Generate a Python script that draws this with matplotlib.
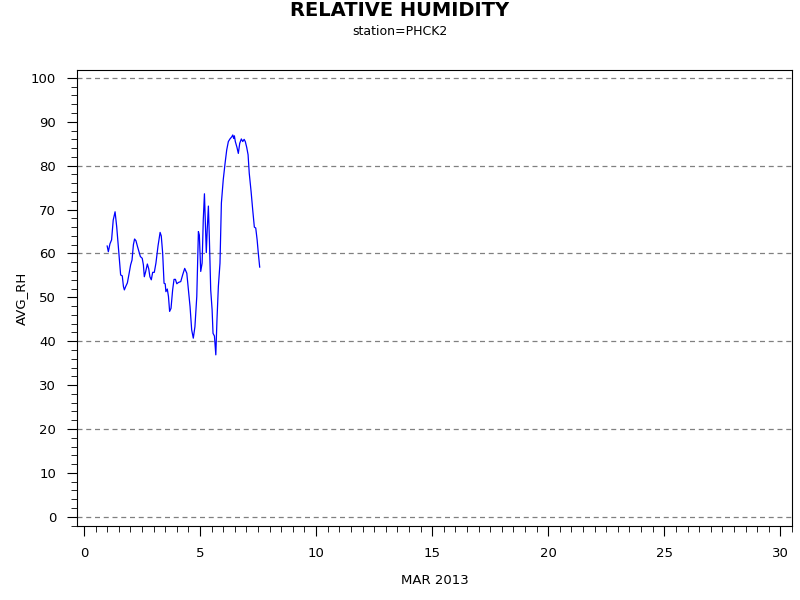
import matplotlib
matplotlib.use("Agg")
import matplotlib.pyplot as plt
from matplotlib.ticker import MultipleLocator

# hourly-ish readings, day of March 2013 vs average RH
day = [1.00, 1.05, 1.12, 1.19, 1.26, 1.34, 1.41, 1.48, 1.58, 1.65, 1.70, 1.74,
       1.80, 1.87, 1.95, 2.01, 2.07, 2.13, 2.18, 2.24, 2.30, 2.37, 2.43, 2.51,
       2.56, 2.60, 2.66, 2.73, 2.79, 2.84, 2.90, 2.96, 3.03, 3.10, 3.19, 3.28,
       3.33, 3.39, 3.45, 3.50, 3.53, 3.59, 3.64, 3.69, 3.75, 3.82, 3.88, 3.94,
       4.00, 4.07, 4.17, 4.25, 4.34, 4.43, 4.50, 4.57, 4.64, 4.71, 4.78, 4.86,
       4.93, 4.97, 5.03, 5.09, 5.14, 5.19, 5.23, 5.27, 5.31, 5.36, 5.40, 5.46,
       5.52, 5.56, 5.62, 5.68, 5.73, 5.79, 5.86, 5.92, 6.00, 6.08, 6.15, 6.22,
       6.29, 6.37, 6.41, 6.45, 6.48, 6.52, 6.59, 6.65, 6.71, 6.78, 6.84, 6.90,
       6.95, 7.01, 7.07, 7.12, 7.20, 7.27, 7.34, 7.40, 7.46, 7.51, 7.57]
avg_rh = [61.7, 60.4, 62.2, 63.1, 67.6, 69.5, 66.1, 61.6, 55.1, 54.9, 52.5, 51.7,
          52.5, 53.3, 55.6, 57.4, 58.5, 62.0, 63.3, 62.9, 61.7, 60.4, 59.3, 58.9,
          57.4, 54.7, 55.9, 57.6, 56.5, 54.7, 54.0, 55.7, 55.7, 57.8, 61.7, 64.8,
          64.0, 60.1, 53.2, 53.1, 51.3, 51.9, 50.2, 46.8, 47.5, 51.7, 54.1, 54.1,
          53.1, 53.4, 53.6, 55.1, 56.6, 55.5, 51.7, 47.9, 42.6, 40.7, 43.3, 50.2,
          65.0, 64.2, 55.9, 57.8, 67.7, 73.6, 66.9, 60.2, 65.4, 70.8, 63.9, 51.7,
          47.2, 41.8, 41.2, 36.9, 44.9, 52.5, 57.8, 71.5, 76.8, 80.6, 83.6, 85.5,
          86.1, 86.6, 87.0, 86.2, 86.8, 85.5, 84.2, 82.8, 85.1, 86.1, 85.5, 86.0,
          85.5, 84.2, 82.5, 78.3, 74.1, 69.9, 66.0, 65.8, 63.1, 60.1, 56.9]

fig = plt.figure(figsize=(8, 6), dpi=100)
ax = fig.add_axes([0.09625, 0.1233, 0.8937, 0.76])

ax.plot(day, avg_rh, color="blue", linewidth=0.9)

ax.set_xlim(-0.3, 30.5)
ax.set_ylim(-2.1, 101.8)
ax.xaxis.set_major_locator(MultipleLocator(5))
ax.xaxis.set_minor_locator(MultipleLocator(0.5))
ax.yaxis.set_major_locator(MultipleLocator(10))
ax.yaxis.set_minor_locator(MultipleLocator(2))
ax.tick_params(which="major", direction="out", length=7, labelsize=9.5, pad=8)
ax.tick_params(which="minor", direction="out", length=4)

for g in [0, 20, 40, 60, 80, 100]:
    ax.axhline(g, color="gray", linestyle=(0, (4, 3)), linewidth=0.9, zorder=0)

ax.set_xlabel("MAR 2013", fontsize=9.5, labelpad=10)
ax.set_ylabel("AVG_RH", fontsize=9.5, labelpad=2)

fig.text(0.5, 0.982, "RELATIVE HUMIDITY", ha="center", va="center",
         fontsize=14, fontweight="bold")
fig.text(0.5, 0.948, "station=PHCK2", ha="center", va="center", fontsize=9)

fig.savefig("out.png", dpi=100)
